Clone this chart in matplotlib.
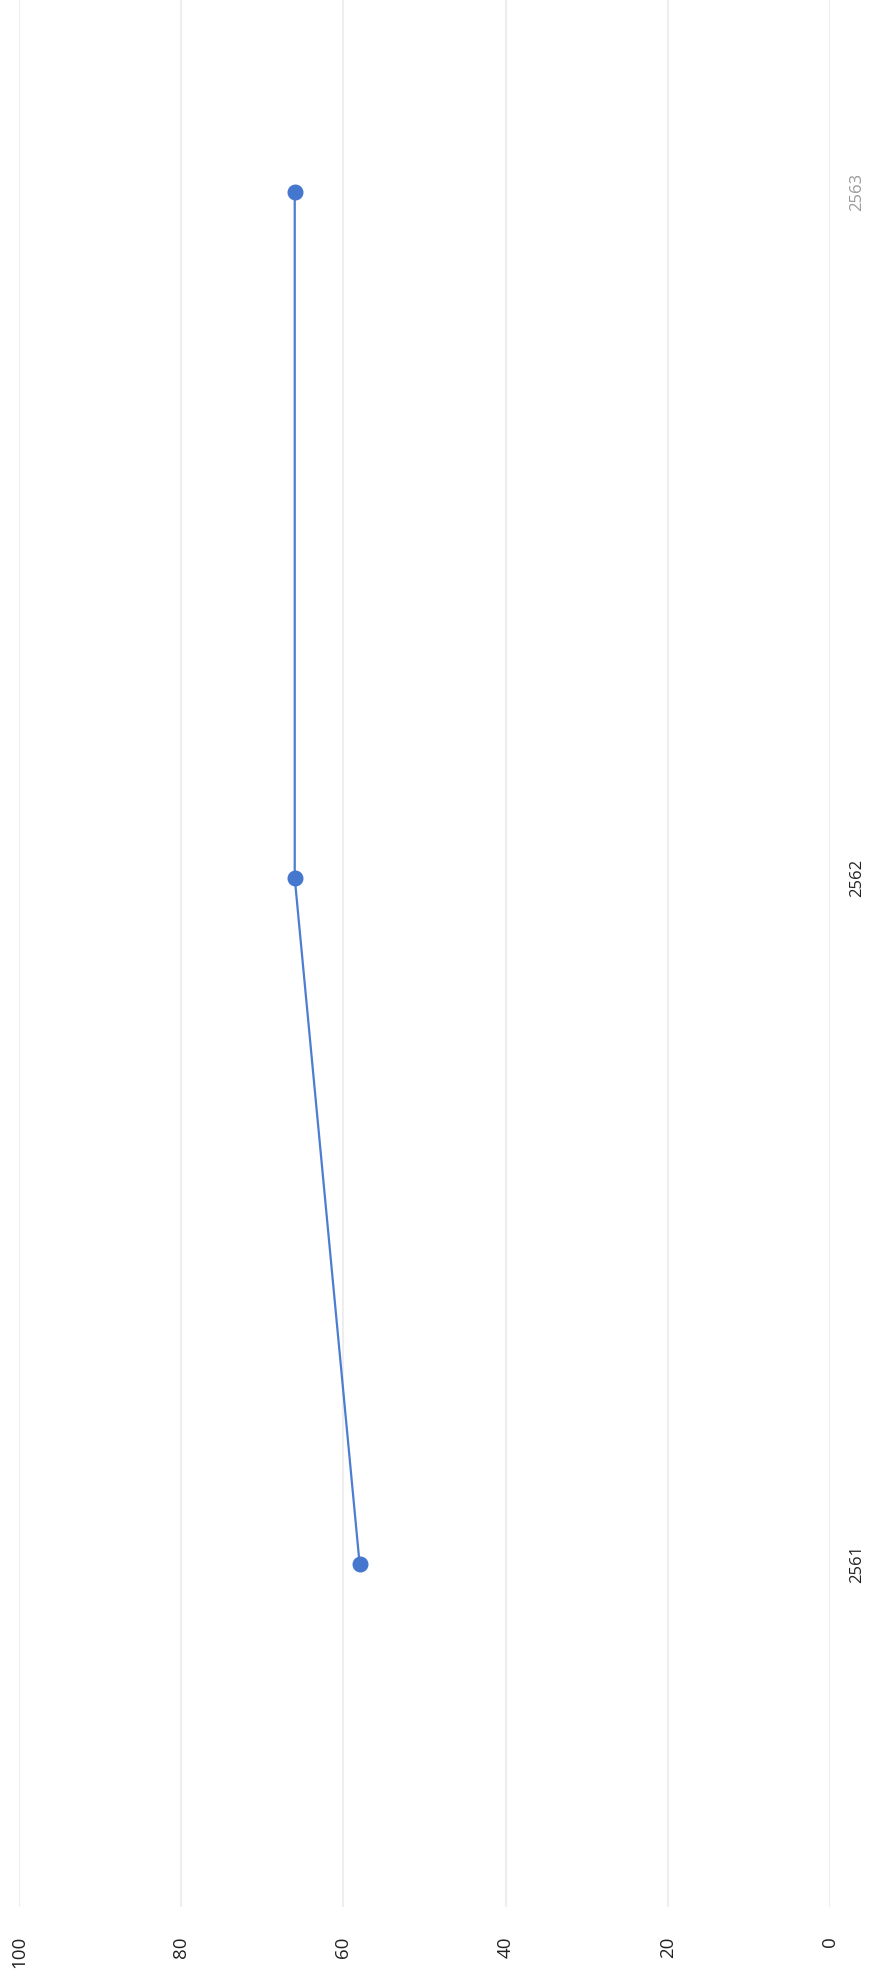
import matplotlib
matplotlib.use("Agg")
import matplotlib.pyplot as plt

# data
years = ["2561", "2562", "2563"]
values = [58, 66, 66]
value_ticks = [0, 20, 40, 60, 80, 100]

plt.rcParams['font.family'] = ['Open Sans', 'DejaVu Sans']

W, H = 869, 1987
fig = plt.figure(figsize=(W / 100, H / 100), dpi=100)
# axes placed in pixel terms (chart is rotated 90 deg)
ax = fig.add_axes([19 / W, 1 - 1907 / H, (830 - 19) / W, 1907 / H])

pos = list(range(len(years)))
ax.plot(values, pos, color="#4c7dd2", lw=1.6, marker="o", ms=10.5,
        markerfacecolor="#4577cf", markeredgecolor="#4577cf", zorder=3)

ax.set_xlim(100, 0)
ax.set_ylim(-0.5, 2.28)

ax.set_xticks(value_ticks)
ax.set_xticklabels([str(v) for v in value_ticks], rotation=90, fontsize=13.5,
                   color="#222222", va="top", ha="center")
ax.tick_params(axis="x", length=0, pad=21)

ax.yaxis.tick_right()
ax.set_yticks(pos)
ax.set_yticklabels(years, rotation=90, fontsize=12, va="center", ha="left")
ax.tick_params(axis="y", length=0, pad=14)
for lab in ax.get_yticklabels():
    lab.set_color("#9a9a9a" if lab.get_text() == "2563" else "#222222")

ax.grid(axis="x", color="#eeeeee", lw=1.5)
ax.grid(axis="y", visible=False)
ax.set_axisbelow(True)
for s in ax.spines.values():
    s.set_visible(False)

fig.savefig("out.png", dpi=100)
